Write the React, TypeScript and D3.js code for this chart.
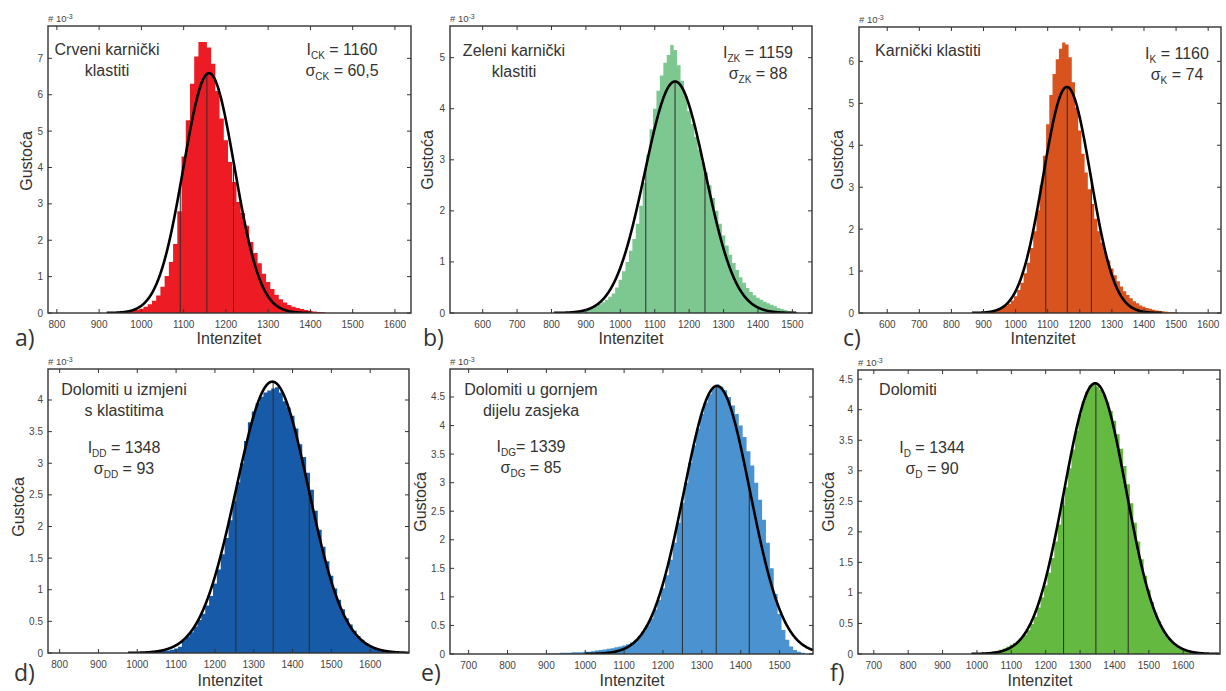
import React from "react";
import * as d3 from "d3";

// ---------- DATA ----------
const BIN_WIDTH = 10;

// a) Crveni karnički klastiti
const startA = 925;
const densA = [0.02, 0.03, 0.04, 0.05, 0.06, 0.07, 0.09, 0.12, 0.17, 0.24, 0.34, 0.48, 0.72, 1.02, 1.4, 1.9, 2.8, 4.3, 5.3, 6.3, 7.05, 7.45, 7.45, 7.3, 6.85, 6.1, 5.35, 4.75, 4.15, 3.6, 3.05, 2.75, 2.4, 1.95, 1.65, 1.37, 1.08, 0.85, 0.66, 0.5, 0.38, 0.29, 0.22, 0.17, 0.14, 0.11, 0.08, 0.06, 0.04, 0.03, 0.02];
// b) Zeleni karnički klastiti
const startB = 825;
const densB = [0.01, 0.01, 0.02, 0.02, 0.03, 0.04, 0.05, 0.06, 0.08, 0.1, 0.13, 0.17, 0.21, 0.26, 0.32, 0.38, 0.5, 0.65, 0.82, 1.0, 1.22, 1.45, 1.75, 2.1, 2.55, 3.1, 3.6, 4.0, 4.35, 4.65, 4.9, 5.05, 5.25, 5.15, 4.85, 4.55, 4.25, 3.95, 3.7, 3.45, 3.2, 2.95, 2.75, 2.5, 2.25, 2.0, 1.75, 1.52, 1.32, 1.14, 0.98, 0.84, 0.7, 0.59, 0.49, 0.41, 0.35, 0.3, 0.26, 0.22, 0.19, 0.16, 0.13, 0.1, 0.08, 0.06, 0.04, 0.03, 0.02];
// c) Karnički klastiti
const startC = 885;
const densC = [0.02, 0.03, 0.04, 0.05, 0.06, 0.08, 0.1, 0.13, 0.17, 0.22, 0.3, 0.4, 0.55, 0.72, 0.95, 1.2, 1.55, 1.95, 2.45, 3.05, 3.75, 4.5, 5.2, 5.7, 6.05, 6.3, 6.45, 6.4, 6.1, 5.5, 4.9, 4.35, 3.8, 3.35, 2.95, 2.6, 2.25, 1.95, 1.68, 1.45, 1.25, 1.06, 0.9, 0.76, 0.63, 0.52, 0.43, 0.35, 0.28, 0.23, 0.18, 0.15, 0.12, 0.1, 0.08, 0.06, 0.05, 0.04, 0.03, 0.02, 0.02, 0.01];
// d) Dolomiti u izmjeni s klastitima
const startD = 1005;
const densD = [0.01, 0.01, 0.01, 0.02, 0.02, 0.03, 0.03, 0.04, 0.05, 0.07, 0.1, 0.2, 0.26, 0.33, 0.42, 0.52, 0.62, 0.75, 0.9, 1.1, 1.32, 1.56, 1.82, 2.1, 2.4, 2.7, 3.0, 3.35, 3.65, 3.82, 3.95, 4.05, 4.12, 4.15, 4.18, 4.2, 4.12, 3.98, 3.88, 3.75, 3.55, 3.3, 3.1, 2.85, 2.58, 2.25, 1.95, 1.68, 1.45, 1.22, 1.02, 0.84, 0.69, 0.55, 0.45, 0.35, 0.27, 0.21, 0.16, 0.12, 0.09, 0.06, 0.04, 0.03, 0.02, 0.01];
// e) Dolomiti u gornjem dijelu zasjeka
const startE = 905;
const densE = [0.01, 0.01, 0.01, 0.02, 0.02, 0.02, 0.03, 0.03, 0.03, 0.04, 0.04, 0.05, 0.06, 0.07, 0.08, 0.09, 0.1, 0.12, 0.13, 0.15, 0.17, 0.2, 0.25, 0.31, 0.4, 0.5, 0.62, 0.78, 0.95, 1.15, 1.38, 1.65, 1.95, 2.3, 2.65, 3.0, 3.35, 3.65, 3.95, 4.2, 4.4, 4.55, 4.65, 4.72, 4.68, 4.62, 4.5, 4.35, 4.2, 4.0, 3.8, 3.55, 3.3, 3.0, 2.7, 2.35, 1.95, 1.5, 1.05, 0.7, 0.42, 0.25, 0.13, 0.07, 0.04, 0.02];
// f) Dolomiti
const startF = 1005;
const densF = [0.01, 0.02, 0.02, 0.03, 0.04, 0.05, 0.07, 0.09, 0.12, 0.15, 0.18, 0.21, 0.26, 0.31, 0.39, 0.49, 0.61, 0.76, 0.93, 1.12, 1.33, 1.57, 1.84, 2.12, 2.43, 2.73, 3.04, 3.35, 3.65, 3.92, 4.14, 4.3, 4.4, 4.42, 4.38, 4.33, 4.25, 4.12, 3.98, 3.82, 3.6, 3.36, 3.08, 2.78, 2.47, 2.15, 1.84, 1.55, 1.28, 1.05, 0.85, 0.68, 0.54, 0.42, 0.32, 0.24, 0.18, 0.13, 0.09, 0.06, 0.04, 0.03, 0.02, 0.01];

// fitted normal parameters (mean, sigma)
const means = [1160, 1159, 1160, 1348, 1339, 1344];
const sigmas = [60.5, 88, 74, 93, 85, 90];
const meanLabels = ["1160", "1159", "1160", "1348", "1339", "1344"];
const sigmaLabels = ["60,5", "88", "74", "93", "85", "90"];
const subscripts = ["CK", "ZK", "K", "DD", "DG", "D"];
// vertical marker lines (intensity)
const markersA = [1092, 1155, 1218];
const markersB = [1074, 1159, 1246];
const markersC = [1094, 1161, 1236];
const markersD = [1254, 1350, 1443];
const markersE = [1250, 1337, 1422];
const markersF = [1252, 1346, 1440];

// axis domains and ticks
const xDomains = [[779, 1638], [505, 1557], [512, 1640], [770, 1700], [652, 1586], [654, 1707]];
const yMaxes = [7.89, 5.62, 6.82, 4.49, 4.99, 4.65];
const xTicksA = [800, 900, 1000, 1100, 1200, 1300, 1400, 1500, 1600];
const xTicksB = [600, 700, 800, 900, 1000, 1100, 1200, 1300, 1400, 1500];
const xTicksC = [600, 700, 800, 900, 1000, 1100, 1200, 1300, 1400, 1500, 1600];
const xTicksD = [800, 900, 1000, 1100, 1200, 1300, 1400, 1500, 1600];
const xTicksE = [700, 800, 900, 1000, 1100, 1200, 1300, 1400, 1500];
const xTicksF = [700, 800, 900, 1000, 1100, 1200, 1300, 1400, 1500, 1600];
const yTicksA = [0, 1, 2, 3, 4, 5, 6, 7];
const yTicksB = [0, 1, 2, 3, 4, 5];
const yTicksC = [0, 1, 2, 3, 4, 5, 6];
const yTicksHalf = [0, 0.5, 1, 1.5, 2, 2.5, 3, 3.5, 4];
const yTicksHalf45 = [0, 0.5, 1, 1.5, 2, 2.5, 3, 3.5, 4, 4.5];

const titlesA = ["Crveni karnički", "klastiti"];
const titlesB = ["Zeleni karnički", "klastiti"];
const titlesC = ["Karnički klastiti"];
const titlesD = ["Dolomiti u izmjeni", "s klastitima"];
const titlesE = ["Dolomiti u gornjem", "dijelu zasjeka"];
const titlesF = ["Dolomiti"];
const letters = ["a)", "b)", "c)", "d)", "e)", "f)"];
const colors = ["#ED1C24", "#7DC791", "#D9531E", "#165AA8", "#4A93D0", "#64B940"];

// ---------- LAYOUT ----------
const layouts = [
  { left: 48, right: 411, top: 26, bottom: 313, yLab: [32, 161], xLab: [229, 344], letter: [15, 346], title: [107, 55], stats: [342, 55], eqSpace: true },
  { left: 450, right: 812, top: 26, bottom: 313, yLab: [433, 160], xLab: [631, 344], letter: [423, 346], title: [514, 56], stats: [758, 58], eqSpace: true },
  { left: 859, right: 1221, top: 27, bottom: 313, yLab: [843, 160], xLab: [1043, 344], letter: [843, 346], title: [928, 56], stats: [1177, 59], eqSpace: true },
  { left: 48, right: 409, top: 369, bottom: 653, yLab: [24, 507], xLab: [230, 686], letter: [14, 681], title: [124, 395], stats: [124, 453], eqSpace: true },
  { left: 450, right: 813, top: 369, bottom: 654, yLab: [426, 502], xLab: [632, 686], letter: [421, 681], title: [531, 395], stats: [531, 452], eqSpace: false },
  { left: 858, right: 1220, top: 370, bottom: 654, yLab: [834, 502], xLab: [1040, 686], letter: [830, 681], title: [908, 395], stats: [932, 453], eqSpace: true },
];

const starts = [startA, startB, startC, startD, startE, startF];
const densities = [densA, densB, densC, densD, densE, densF];
const markers = [markersA, markersB, markersC, markersD, markersE, markersF];
const xTicks = [xTicksA, xTicksB, xTicksC, xTicksD, xTicksE, xTicksF];
const yTicks = [yTicksA, yTicksB, yTicksC, yTicksHalf, yTicksHalf45, yTicksHalf45];
const titles = [titlesA, titlesB, titlesC, titlesD, titlesE, titlesF];

const FONT = "'Liberation Sans', Arial, Helvetica, sans-serif";
const TEXT = "#333";

function Panel({ i }: { i: number }) {
  const L = layouts[i];
  const x = d3.scaleLinear().domain(xDomains[i]).range([L.left, L.right]);
  const y = d3.scaleLinear().domain([0, yMaxes[i]]).range([L.bottom, L.top]);
  const mu = means[i];
  const sd = sigmas[i];
  const pdf = (t: number) => (1000 / (sd * Math.sqrt(2 * Math.PI))) * Math.exp(-0.5 * ((t - mu) / sd) ** 2);
  const lo = Math.max(xDomains[i][0], mu - 4 * sd);
  const hi = Math.min(xDomains[i][1], mu + 4 * sd);
  const curvePts = d3.range(lo, hi, 1).concat([hi]);
  const line = d3.line<number>().x((d) => x(d)).y((d) => y(pdf(d)));
  const dens = densities[i];
  const steps = dens.map((v, k) => ({ x: starts[i] + k * BIN_WIDTH, v }));
  steps.push({ x: starts[i] + dens.length * BIN_WIDTH, v: 0 });
  const area = d3
    .area<{ x: number; v: number }>()
    .x((d) => x(d.x))
    .y0(y(0))
    .y1((d) => y(d.v))
    .curve(d3.curveStepAfter);
  const clipId = `clip${i}`;
  const tl = 4;
  const sub = subscripts[i];
  return (
    <g>
      <defs>
        <clipPath id={clipId}>
          <rect x={L.left} y={L.top} width={L.right - L.left} height={L.bottom - L.top} />
        </clipPath>
      </defs>
      <g clipPath={`url(#${clipId})`}>
        <path d={area(steps) || ""} fill={colors[i]} stroke="none" />
        {markers[i].map((m, k) => (
          <line key={k} x1={x(m)} x2={x(m)} y1={y(0)} y2={y(pdf(m))} stroke="#2b2b2b" strokeWidth={1} />
        ))}
        <path d={line(curvePts) || ""} fill="none" stroke="#000" strokeWidth={2.6} />
      </g>
      {xTicks[i].map((t) => (
        <g key={t}>
          <line x1={x(t)} x2={x(t)} y1={L.bottom} y2={L.bottom - tl} stroke="#333" strokeWidth={1} />
          <line x1={x(t)} x2={x(t)} y1={L.top} y2={L.top + tl} stroke="#333" strokeWidth={1} />
          <text x={x(t)} y={L.bottom + 15} textAnchor="middle" fontSize={10} fill="#444" fontFamily={FONT}>{t}</text>
        </g>
      ))}
      {yTicks[i].map((t) => (
        <g key={t}>
          <line x1={L.left} x2={L.left + tl} y1={y(t)} y2={y(t)} stroke="#333" strokeWidth={1} />
          <line x1={L.right} x2={L.right - tl} y1={y(t)} y2={y(t)} stroke="#333" strokeWidth={1} />
          <text x={L.left - 5} y={y(t) + 3.5} textAnchor="end" fontSize={10} fill="#444" fontFamily={FONT}>{String(t)}</text>
        </g>
      ))}
      <rect x={L.left} y={L.top} width={L.right - L.left} height={L.bottom - L.top} fill="none" stroke="#333" strokeWidth={1.4} />
      <text x={L.left} y={L.top - 4} fontSize={9.5} fill="#444" fontFamily={FONT}>
        # 10<tspan fontSize={7} dy={-3.5}>-3</tspan>
      </text>
      <text transform={`translate(${L.yLab[0]},${L.yLab[1]}) rotate(-90)`} textAnchor="middle" fontSize={16} fill={TEXT} fontFamily={FONT}>Gustoća</text>
      <text x={L.xLab[0]} y={L.xLab[1]} textAnchor="middle" fontSize={16} fill={TEXT} fontFamily={FONT}>Intenzitet</text>
      <text x={L.letter[0]} y={L.letter[1]} fontSize={23} fill={TEXT} fontFamily="'Open Sans', sans-serif">{letters[i]}</text>
      {titles[i].map((t, k) => (
        <text key={k} x={L.title[0]} y={L.title[1] + k * 21} textAnchor="middle" fontSize={16} fill={TEXT} fontFamily={FONT}>{t}</text>
      ))}
      <text x={L.stats[0]} y={L.stats[1]} textAnchor="middle" fontSize={16} fill={TEXT} fontFamily={FONT}>
        I<tspan fontSize={10} dy={4}>{sub}</tspan><tspan dy={-4}>{L.eqSpace ? " = " : "= "}{meanLabels[i]}</tspan>
      </text>
      <text x={L.stats[0]} y={L.stats[1] + 21} textAnchor="middle" fontSize={16} fill={TEXT} fontFamily={FONT}>
        σ<tspan fontSize={10} dy={4}>{sub}</tspan><tspan dy={-4}> = {sigmaLabels[i]}</tspan>
      </text>
    </g>
  );
}

export default function App() {
  return (
    <svg width={1226} height={691} style={{ position: "absolute", left: 0, top: 0, background: "#fff" }}>
      <rect x={0} y={0} width={1226} height={691} fill="#fff" />
      {layouts.map((_, i) => (
        <Panel key={i} i={i} />
      ))}
    </svg>
  );
}
